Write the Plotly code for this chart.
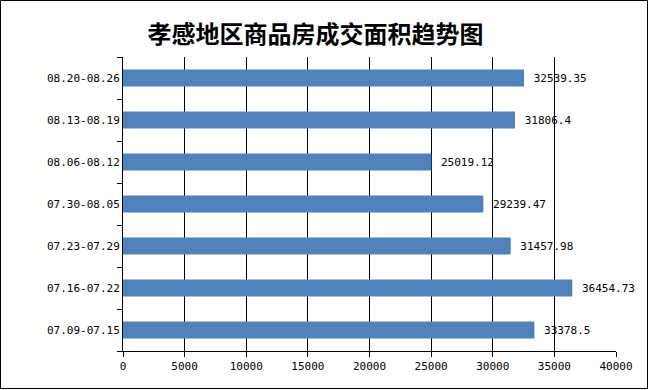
import plotly.graph_objects as go

categories = ["07.09-07.15", "07.16-07.22", "07.23-07.29", "07.30-08.05",
              "08.06-08.12", "08.13-08.19", "08.20-08.26"]
values = [33378.5, 36454.73, 31457.98, 29239.47, 25019.12, 31806.4, 32539.35]
x_ticks = [0, 5000, 10000, 15000, 20000, 25000, 30000, 35000, 40000]
title_text = "孝感地区商品房成交面积趋势图"

W, H = 649, 390
L, R, T, B = 123, 33, 57, 39
pw, ph = W - L - R, H - T - B

mono = "DejaVu Sans Mono"

fig = go.Figure(go.Bar(
    y=categories, x=values, orientation="h",
    marker=dict(color="#4F81BD", line=dict(width=0)),
    text=["\u00a0" + str(v) for v in values],
    textposition="outside",
    textfont=dict(family=mono, size=11, color="black"),
    cliponaxis=False,
))

def px2x(p):
    return (p - L) / pw

def py2y(p):
    return (H - B - p) / ph

fig.update_layout(
    width=W, height=H,
    margin=dict(l=L, r=R, t=T, b=B, autoexpand=False),
    paper_bgcolor="white", plot_bgcolor="white",
    bargap=0.6,
    showlegend=False,
    uniformtext=dict(minsize=11, mode="show"),
    title=dict(text="<b>" + title_text + "</b>", x=315.5 / W, xanchor="center",
               y=1 - 35 / H, yanchor="middle", yref="container", xref="paper" if False else "container",
               font=dict(family="Noto Sans CJK SC", size=24, color="black")),
    xaxis=dict(range=[0, 40000], tickvals=x_ticks, ticktext=[str(t) for t in x_ticks],
               showgrid=True, gridcolor="black", gridwidth=1,
               showline=True, linecolor="black", linewidth=1,
               ticks="outside", ticklen=5, tickcolor="black",
               tickfont=dict(family=mono, size=11, color="black"),
               zeroline=False, fixedrange=True, automargin=False),
    yaxis=dict(showline=True, linecolor="black", linewidth=1,
               ticks="outside", ticklen=5, tickcolor="black", tickson="boundaries",
               tickfont=dict(family=mono, size=11, color="black"),
               showgrid=False, fixedrange=True, automargin=False),
    shapes=[dict(type="rect", xref="paper", yref="paper",
                 x0=px2x(0.5), x1=px2x(647.5), y0=py2y(388.5), y1=py2y(0.5),
                 line=dict(color="black", width=1), fillcolor="rgba(0,0,0,0)",
                 layer="above")],
)

fig.write_html("out.html", config={"displayModeBar": False},
               post_script="document.body.style.margin='0';document.body.style.overflow='hidden';")
